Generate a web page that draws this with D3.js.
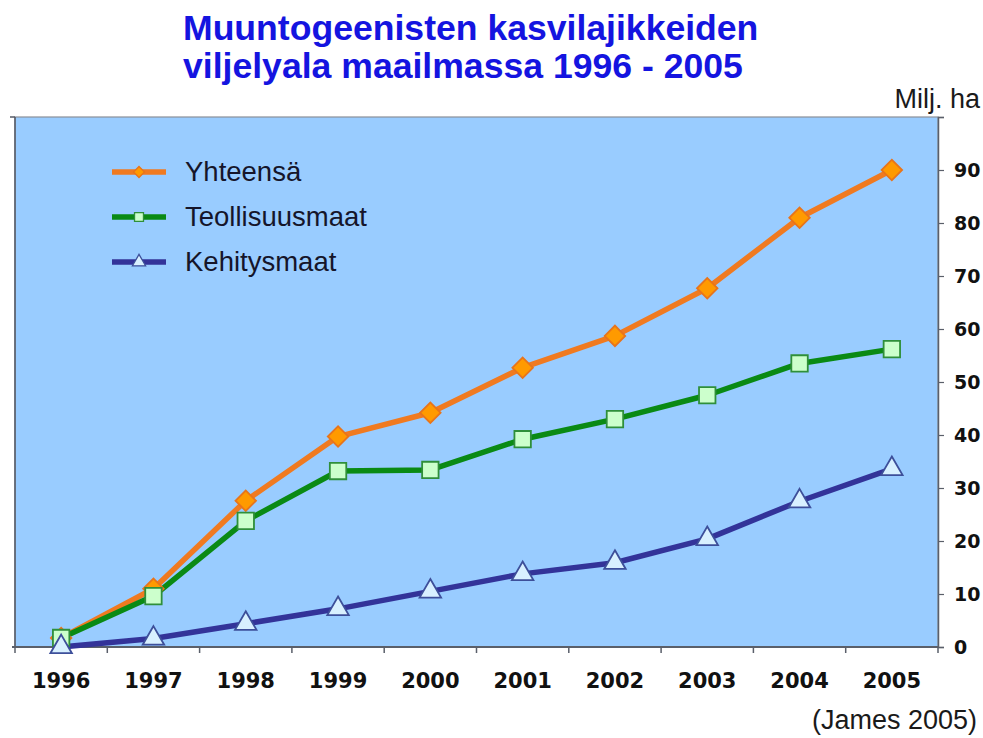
<!DOCTYPE html>
<html><head><meta charset="utf-8">
<script src="https://cdn.jsdelivr.net/npm/d3@7"></script>
<style>
html,body{margin:0;padding:0;background:#fff;}
svg{display:block;}
</style>
</head><body>
<svg id="chart" width="983" height="738"></svg>
<script>
const years = ["1996","1997","1998","1999","2000","2001","2002","2003","2004","2005"];
const yhteensa = [1.7, 11.0, 27.6, 39.7, 44.2, 52.7, 58.7, 67.7, 81.0, 90.0];
const teollisuusmaat = [1.7, 9.6, 23.8, 33.2, 33.4, 39.2, 43.0, 47.5, 53.5, 56.2];
const kehitysmaat = [0.0, 1.6, 4.4, 7.2, 10.5, 13.8, 15.9, 20.4, 27.5, 33.6];
const seriesNames = ["Yhteensä", "Teollisuusmaat", "Kehitysmaat"];
const yTicks = [0,10,20,30,40,50,60,70,80,90,100];
const titleLines = ["Muuntogeenisten kasvilajikkeiden", "viljelyala maailmassa 1996 - 2005"];
const unitLabel = "Milj. ha";
const sourceLabel = "(James 2005)";

const svg = d3.select("#chart");
const plot = {left: 15, right: 938, top: 117, bottom: 647};

const x = d3.scaleBand().domain(years).range([plot.left, plot.right]).paddingInner(0).paddingOuter(0);
const y = d3.scaleLinear().domain([0, 100]).range([plot.bottom, plot.top]);

// title
svg.append("g").selectAll("text").data(titleLines).join("text")
  .attr("x", 183).attr("y", (d,i) => 40 + i*38)
  .attr("font-family", "'Liberation Sans', Arial, sans-serif")
  .attr("font-weight", "bold").attr("font-size", 35.6)
  .attr("fill", "#1414e0").text(d => d);

// plot background
svg.append("rect").attr("x", plot.left).attr("y", plot.top)
  .attr("width", plot.right - plot.left).attr("height", plot.bottom - plot.top)
  .attr("fill", "#99ccff").attr("stroke", "#8a8f99").attr("stroke-width", 1.2);
// left axis line (darker)
svg.append("line").attr("x1", plot.left).attr("x2", plot.left).attr("y1", plot.top).attr("y2", plot.bottom)
  .attr("stroke", "#555a66").attr("stroke-width", 1.5);
svg.append("line").attr("x1", plot.left-5).attr("x2", plot.left).attr("y1", plot.top).attr("y2", plot.top)
  .attr("stroke", "#555a66").attr("stroke-width", 1.5);

// x axis
const xAxis = svg.append("g").attr("transform", `translate(0,${plot.bottom})`)
  .call(d3.axisBottom(x).tickSize(0).tickPadding(26));
xAxis.select(".domain").attr("stroke", "#5a5f6a").attr("stroke-width", 1.8).attr("d", `M${plot.left-3},0H${plot.right}`);
xAxis.selectAll("text").attr("font-family", "'DejaVu Sans', Verdana, sans-serif")
  .attr("font-weight", "bold").attr("font-size", 21).attr("fill", "#111");
const boundaries = years.map(d => x(d)).concat([x(years[years.length-1]) + x.bandwidth()]);
xAxis.selectAll("line.bt").data(boundaries).join("line").attr("class","bt")
  .attr("x1", d => d).attr("x2", d => d).attr("y1", 0).attr("y2", 6)
  .attr("stroke", "#5a5f6a").attr("stroke-width", 1.5);

// y axis (right)
const yAxis = svg.append("g").attr("transform", `translate(${plot.right},0)`)
  .call(d3.axisRight(y).tickValues(yTicks).tickSize(6).tickPadding(10)
    .tickFormat(d => d < 100 ? d : ""));
yAxis.select(".domain").attr("stroke", "#5a5f6a").attr("stroke-width", 1.5);
yAxis.selectAll(".tick line").attr("stroke", "#5a5f6a").attr("stroke-width", 1.2);
yAxis.selectAll("text").attr("font-family", "'DejaVu Sans', Verdana, sans-serif")
  .attr("font-weight", "bold").attr("font-size", 19).attr("fill", "#111");

// unit label
svg.append("text").attr("x", 980).attr("y", 108).attr("text-anchor", "end")
  .attr("font-family", "'Liberation Sans', Arial, sans-serif").attr("font-size", 27)
  .attr("fill", "#1a1a1a").text(unitLabel);
// source
svg.append("text").attr("x", 977).attr("y", 729).attr("text-anchor", "end")
  .attr("font-family", "'Liberation Sans', Arial, sans-serif").attr("font-size", 27)
  .attr("fill", "#1a1a1a").text(sourceLabel);

const styles = [
  {values: yhteensa, line: "#f07a20", fill: "#ff9a00", stroke: "#e8741a", sym: "diamond"},
  {values: teollisuusmaat, line: "#0a8a14", fill: "#ccffcc", stroke: "#2f8f3a", sym: "square"},
  {values: kehitysmaat, line: "#333399", fill: "#d8f0ff", stroke: "#3d4f9a", sym: "triangle"}
];

function symPath(sym) {
  if (sym === "diamond") return d3.symbol().type(d3.symbolSquare).size(210)();
  if (sym === "square") return d3.symbol().type(d3.symbolSquare).size(270)();
  return d3.symbol().type(d3.symbolTriangle).size(200)();
}

const cx = d => x(d) + x.bandwidth()/2;
const lineGen = d3.line().x(d => cx(d.year)).y(d => y(d.v));

const seriesG = svg.append("g");
styles.forEach((s, si) => {
  const pts = years.map((yr, i) => ({year: yr, v: s.values[i]}));
  seriesG.append("path").datum(pts).attr("d", lineGen)
    .attr("fill", "none").attr("stroke", s.line).attr("stroke-width", 5.5)
    .attr("stroke-linejoin", "round");
});
styles.forEach((s) => {
  const pts = years.map((yr, i) => ({year: yr, v: s.values[i]}));
  seriesG.append("g").selectAll("path").data(pts).join("path")
    .attr("d", symPath(s.sym))
    .attr("transform", d => `translate(${cx(d.year)},${y(d.v)})` + (s.sym === "diamond" ? " rotate(45)" : ""))
    .attr("fill", s.fill).attr("stroke", s.stroke).attr("stroke-width", 1.8);
});

// legend
const legend = svg.append("g");
seriesNames.forEach((name, i) => {
  const s = styles[i];
  const ly = 172 + i*45;
  legend.append("line").attr("x1", 112).attr("x2", 166).attr("y1", ly).attr("y2", ly)
    .attr("stroke", s.line).attr("stroke-width", 5.5);
  const small = s.sym === "diamond" ? d3.symbol().type(d3.symbolSquare).size(60)()
    : s.sym === "square" ? d3.symbol().type(d3.symbolSquare).size(80)()
    : d3.symbol().type(d3.symbolTriangle).size(75)();
  legend.append("path").attr("d", small)
    .attr("transform", `translate(139,${ly})` + (s.sym === "diamond" ? " rotate(45)" : ""))
    .attr("fill", s.fill).attr("stroke", s.stroke).attr("stroke-width", 1.3);
  legend.append("text").attr("x", 185).attr("y", ly + 9)
    .attr("font-family", "'Liberation Sans', Arial, sans-serif").attr("font-size", 27.5)
    .attr("fill", "#15152a").text(name);
});
</script>
</body></html>
